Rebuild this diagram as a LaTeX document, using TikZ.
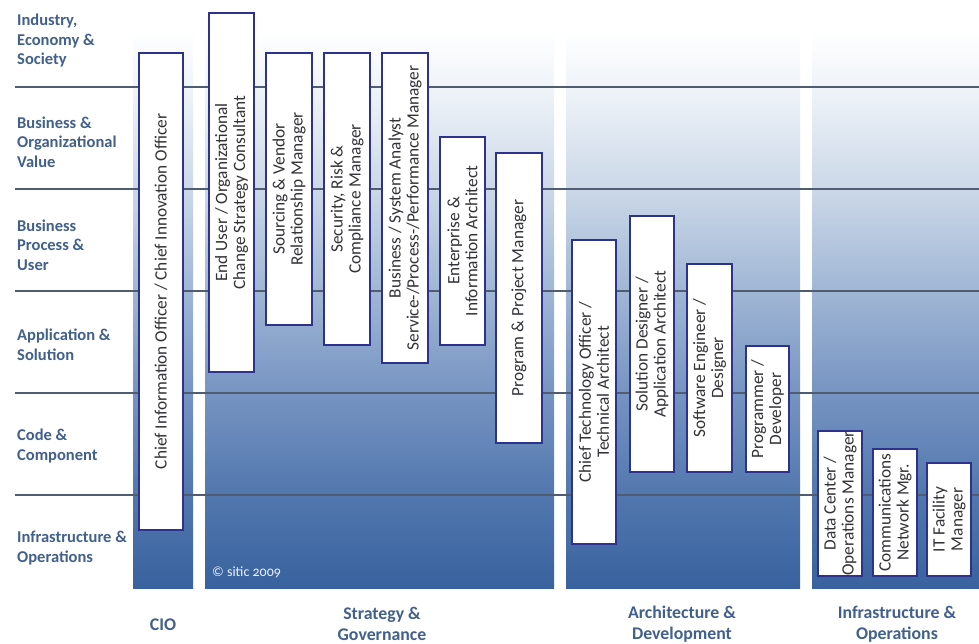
\documentclass[tikz,border=0pt]{standalone}
\usepackage{fontspec}
\setmainfont{Carlito}

% palette
\definecolor{labelblue}{RGB}{66,96,140}
\definecolor{boxline}{RGB}{45,50,140}
\definecolor{boxtext}{RGB}{50,50,55}
\definecolor{rulecol}{RGB}{80,92,112}
\definecolor{colbot}{RGB}{56,98,158}
\definecolor{fadeE}{RGB}{82,119,174}
\definecolor{fadeD}{RGB}{118,148,194}
\definecolor{fadeC}{RGB}{160,182,213}
\definecolor{fadeB}{RGB}{203,216,232}
\definecolor{fadeA}{RGB}{240,244,249}

% column background: white at the top, deep blue at the bottom
\pgfdeclareverticalshading{bandfade}{100bp}{
  color(0bp)=(colbot); color(25bp)=(colbot);
  color(33.33bp)=(fadeE); color(42.47bp)=(fadeD);
  color(51.61bp)=(fadeC); color(60.75bp)=(fadeB);
  color(69.89bp)=(fadeA); color(75bp)=(white); color(100bp)=(white)}

\begin{document}
\begin{tikzpicture}[x=1pt,y=-1pt,
  rowrule/.style={draw=rulecol, line width=1.6pt},
  rolebox/.style={draw=boxline, line width=1.6pt, fill=white, rotate=90,
    inner sep=0pt, align=center, text=boxtext,
    font=\fontsize{17.3}{18}\selectfont},
  rowlabel/.style={anchor=west, align=left, inner sep=0pt, text=labelblue,
    font=\bfseries\fontsize{16.5}{19.5}\selectfont},
  grouplabel/.style={align=center, inner sep=0pt, text=labelblue,
    font=\bfseries\fontsize{17.8}{21}\selectfont}]

\useasboundingbox (0,0) rectangle (979,644);
\fill[white] (0,0) rectangle (979,644);

% role-group columns
\shade[shading=bandfade] (133,30) rectangle (193,588);
\shade[shading=bandfade] (205,30) rectangle (554,588);
\shade[shading=bandfade] (566,30) rectangle (800,588);
\shade[shading=bandfade] (812,30) rectangle (979,588);

% level separators
\foreach \yy in {87,189,291,393,495}
  \draw[rowrule] (15,\yy) -- (979,\yy);

% level names
\node[rowlabel] (lvlA) at (17,41)  {Industry,\\Economy \&\\Society};
\node[rowlabel] (lvlB) at (17,142) {Business \&\\Organizational\\Value};
\node[rowlabel] (lvlC) at (17,245) {Business\\Process \&\\User};
\node[rowlabel] (lvlD) at (17,345) {Application \&\\Solution};
\node[rowlabel] (lvlE) at (17,446) {Code \&\\Component};
\node[rowlabel] (lvlF) at (17,548) {Infrastructure \&\\Operations};

% roles
\node[rolebox, minimum width=477pt, minimum height=44pt] (cio) at (161,291.5)
  {Chief Information Officer / Chief Innovation Officer};
\node[rolebox, minimum width=359pt, minimum height=45pt] (enduser) at (231.5,192.5)
  {End User / Organizational\\Change Strategy Consultant};
\node[rolebox, minimum width=272pt, minimum height=46pt] (sourcing) at (289,189)
  {Sourcing \& Vendor\\Relationship Manager};
\node[rolebox, minimum width=292pt, minimum height=46pt] (security) at (347,199)
  {Security, Risk \&\\Compliance Manager};
\node[rolebox, minimum width=310pt, minimum height=46pt] (analyst) at (405,208)
  {Business / System Analyst\\Service-/Process-/Performance Manager};
\node[rolebox, minimum width=208pt, minimum height=45pt] (enterprise) at (462.5,241)
  {Enterprise \&\\Information Architect};
\node[rolebox, minimum width=290pt, minimum height=46pt] (program) at (519,298)
  {Program \& Project Manager};
\node[rolebox, minimum width=304pt, minimum height=44pt] (cto) at (594,392)
  {Chief Technology Officer /\\Technical Architect};
\node[rolebox, minimum width=256pt, minimum height=44pt] (solution) at (652,344)
  {Solution Designer /\\Application Architect};
\node[rolebox, minimum width=208pt, minimum height=45pt] (software) at (709.5,368)
  {Software Engineer /\\Designer};
\node[rolebox, minimum width=126pt, minimum height=43pt] (programmer) at (767.5,409)
  {Programmer /\\Developer};
\node[rolebox, minimum width=145pt, minimum height=44pt] (datacenter) at (840,503.5)
  {Data Center /\\Operations Manager};
\node[rolebox, minimum width=127pt, minimum height=44pt] (comms) at (895,512.5)
  {Communications\\Network Mgr.};
\node[rolebox, minimum width=113pt, minimum height=44pt] (facility) at (949,519.5)
  {IT Facility\\Manager};

% copyright
\node[anchor=west, inner sep=0pt, text=white!94!blue,
  font=\fontsize{14}{16}\selectfont] (copy) at (212,572)
  {\addfontfeatures{Numbers=OldStyle}\textcopyright{} sitic 2009};

% group names
\node[grouplabel] (gCIO)  at (163,625) {CIO};
\node[grouplabel] (gSG)   at (382,624) {Strategy \&\\Governance};
\node[grouplabel] (gAD)   at (682,624) {Architecture \&\\Development};
\node[grouplabel] (gIO)   at (897,624) {Infrastructure \&\\Operations};
\end{tikzpicture}
\end{document}
